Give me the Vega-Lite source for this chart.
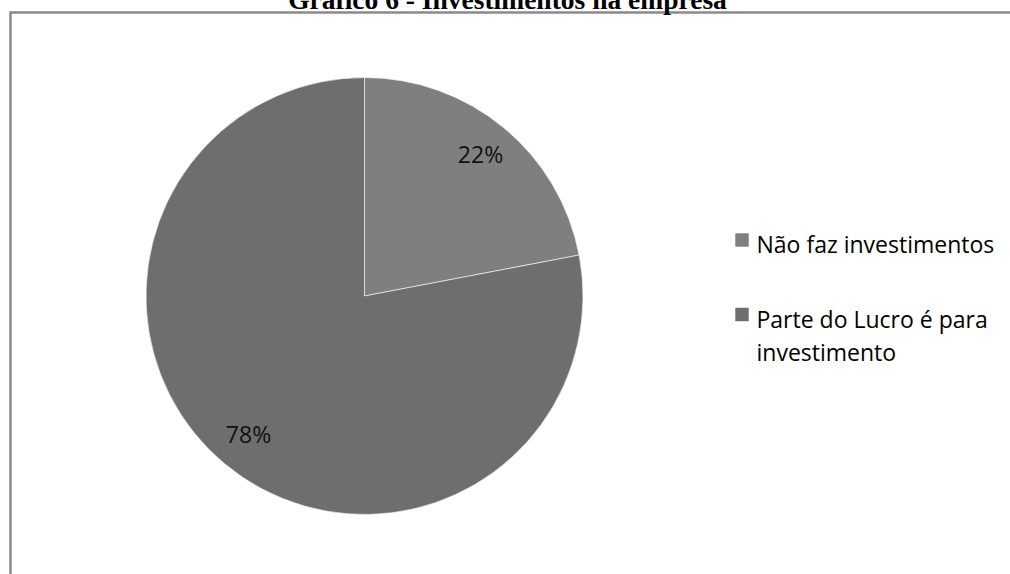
{
  "$schema": "https://vega.github.io/schema/vega-lite/v6.json",
  "autosize": {"type": "none"},
  "padding": {"left": 10.5, "top": 12.5, "right": 0, "bottom": 0},
  "width": 1002,
  "height": 567,
  "background": "white",
  "view": {"stroke": "#8a8a8a", "strokeWidth": 2.5},
  "title": {
    "text": "Gráfico 6 - Investimentos na empresa",
    "font": "Liberation Serif",
    "fontSize": 27.5,
    "fontWeight": "bold",
    "color": "#000000",
    "anchor": "middle",
    "baseline": "alphabetic",
    "offset": 0,
    "dx": -4,
    "dy": 24
  },
  "data": {
    "values": [
      {"categoria": "Não faz investimentos", "valor": 0.22},
      {"categoria": "Parte do Lucro é para investimento", "valor": 0.78}
    ]
  },
  "encoding": {
    "theta": {"field": "valor", "type": "quantitative", "stack": true},
    "color": {
      "field": "categoria",
      "type": "nominal",
      "scale": {
        "domain": ["Não faz investimentos", "Parte do Lucro é para investimento"],
        "range": ["#7f7f7f", "#6e6e6e"]
      },
      "legend": {
        "title": null,
        "orient": "none",
        "legendX": 720,
        "legendY": 216,
        "symbolType": "square",
        "symbolSize": 180,
        "symbolStrokeWidth": 0,
        "labelFont": "Open Sans",
        "labelFontSize": 23,
        "labelColor": "#000000",
        "labelOffset": 3,
        "labelLimit": 400,
        "labelBaseline": "top",
        "rowPadding": 44.5,
        "labelExpr": "datum.label == 'Parte do Lucro é para investimento' ? ['Parte do Lucro é para', 'investimento'] : datum.label"
      }
    }
  },
  "layer": [
    {
      "mark": {"type": "arc", "outerRadius": 218.5, "stroke": "#ffffff", "strokeWidth": 0.6},
      "encoding": {"x": {"value": 354}, "y": {"value": 283.5}}
    },
    {
      "mark": {"type": "text", "radius": 182, "font": "Open Sans", "fontSize": 23},
      "encoding": {
        "x": {"value": 354},
        "y": {"value": 283.5},
        "color": {"value": "#111111"},
        "text": {"field": "valor", "type": "quantitative", "format": ".0%"}
      }
    }
  ],
  "config": {
    "style": {"guide-label": {"lineHeight": 33, "dy": -5}}
  }
}
